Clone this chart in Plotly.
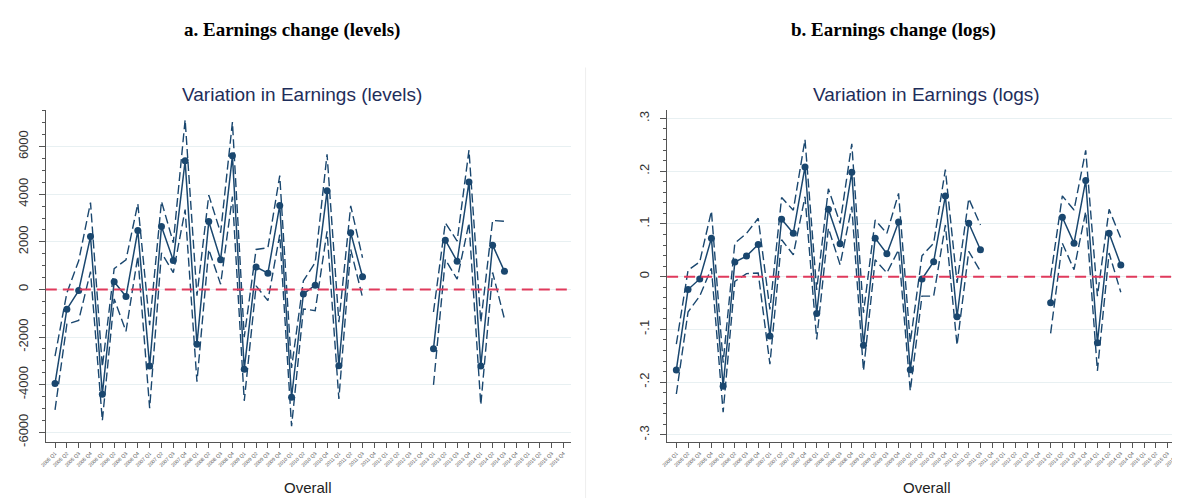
import plotly.graph_objects as go

quarters = [f"{y} Q{q}" for y in range(2005, 2016) for q in range(1, 5)]
N = None

# Panel a: levels
lev_est = [-3950, -830, -50, 2220, -4400, 320, -300, 2470, -3220, 2640, 1220, 5400,
           -2300, 2850, 1250, 5610, -3350, 940, 680, 3530, -4530, -190, 180, 4140,
           -3210, 2380, 530, N, N, N, N, N, -2490, 2070, 1180, 4510, -3220, 1860, 760,
           N, N, N, N, N]
lev_hi = [-2800, -150, 1200, 3650, -3250, 875, 1240, 3600, -1500, 3700, 1960, 7130,
          -260, 3960, 2380, 7030, -2000, 1680, 1750, 4780, -3300, 360, 1130, 5680,
          -1380, 3510, 1330, N, N, N, N, N, -950, 2800, 2030, 5850, -1380, 2900, 2860,
          N, N, N, N, N]
lev_lo = [-5060, -1460, -1300, 750, -5510, -400, -1760, 1400, -4990, 1540, 710, 3350,
          -3880, 1680, 220, 3900, -4680, 150, -470, 2300, -5750, -820, -890, 2440,
          -4600, 1680, -330, N, N, N, N, N, -4010, 1260, 430, 2790, -4850, 710, -1240,
          N, N, N, N, N]

# Panel b: logs
log_est = [-0.177, -0.0245, -0.0044, 0.073, -0.208, 0.0277, 0.039, 0.061, -0.1126, 0.1088,
           0.0824, 0.208, -0.0698, 0.1277, 0.0623, 0.198, -0.130, 0.073, 0.0434, 0.1038,
           -0.1767, -0.0044, 0.0283, 0.153, -0.0761, 0.1013, 0.0509, N, N, N, N, N,
           -0.0497, 0.1126, 0.0635, 0.1824, -0.1252, 0.0824, 0.022, N, N, N, N, N]
log_hi = [-0.128, 0.012, 0.028, 0.1245, -0.163, 0.0635, 0.082, 0.1107, -0.062, 0.150,
          0.126, 0.260, -0.025, 0.1667, 0.101, 0.252, -0.0686, 0.1075, 0.082, 0.158,
          -0.125, 0.0396, 0.0635, 0.203, -0.012, 0.148, 0.098, N, N, N, N, N,
          0.0, 0.153, 0.1264, 0.2396, -0.037, 0.1277, 0.073, N, N, N, N, N]
log_lo = [-0.2226, -0.067, -0.037, 0.016, -0.257, -0.009, 0.0057, 0.007, -0.166, 0.070,
          0.0415, 0.1516, -0.119, 0.092, 0.0226, 0.1327, -0.1786, 0.032, 0.007, 0.051,
          -0.2164, -0.037, -0.037, 0.098, -0.130, 0.048, 0.010, N, N, N, N, N,
          -0.1075, 0.0635, 0.0132, 0.1233, -0.1786, 0.0447, -0.0296, N, N, N, N, N]

W, H = 1180, 498
NAVY = "#1a476f"
RED = "#e03a5c"
GRID = "#e8f0f2"
AX = "#555555"

xs = list(range(len(quarters)))

fig = go.Figure()

def add_panel(xa, ya, est, hi, lo):
    for ser in (hi, lo):
        fig.add_trace(go.Scatter(x=xs, y=ser, mode="lines", xaxis=xa, yaxis=ya,
                                 line=dict(color=NAVY, width=1.4, dash="9px,4px"),
                                 connectgaps=False, showlegend=False, hoverinfo="skip"))
    fig.add_trace(go.Scatter(x=xs, y=est, mode="lines+markers", xaxis=xa, yaxis=ya,
                             line=dict(color=NAVY, width=1.5),
                             marker=dict(color=NAVY, size=7),
                             connectgaps=False, showlegend=False))

add_panel("x", "y", lev_est, lev_hi, lev_lo)
add_panel("x2", "y2", log_est, log_hi, log_lo)

def px_x(p):
    return p / W

def px_y(p):
    return 1 - p / H

ydom = [px_y(438), px_y(103)]

xcommon = dict(tickmode="array", tickvals=xs, ticktext=quarters, tickangle=-45,
               tickfont=dict(size=5, color="#555555", family="Arial"),
               ticks="outside", ticklen=5, tickcolor=AX, showline=True, linecolor=AX,
               linewidth=1, showgrid=False, zeroline=False)
ycommon = dict(tickangle=-90, tickfont=dict(size=13, color="#333333", family="Arial"),
               ticks="outside", ticklen=6, tickcolor=AX, showline=True, linecolor=AX,
               linewidth=1, showgrid=True, gridcolor=GRID, gridwidth=1.2, zeroline=False,
               ticklabelstandoff=6)

fig.update_layout(
    width=W, height=H, margin=dict(l=0, r=0, t=0, b=0),
    paper_bgcolor="white", plot_bgcolor="white",
    xaxis=dict(domain=[px_x(32), px_x(560)], range=[-0.78, 43.6], anchor="y", **xcommon),
    yaxis=dict(domain=ydom, range=[-6430, 7530], anchor="x",
               tickvals=[-6000, -4000, -2000, 0, 2000, 4000, 6000],
               ticktext=["-6000", "-4000", "-2000", "0", "2000", "4000", "6000"],
               minor=dict(dtick=500, ticklen=3, ticks="outside", tickcolor=AX, showgrid=False),
               **ycommon),
    xaxis2=dict(domain=[px_x(657), px_x(1174)], range=[-0.79, 43.15], anchor="y2", **xcommon),
    yaxis2=dict(domain=ydom, range=[-0.3145, 0.3157], anchor="x2",
                tickvals=[-0.3, -0.2, -0.1, 0, 0.1, 0.2, 0.3],
                ticktext=["-.3", "-.2", "-.1", "0", ".1", ".2", ".3"],
                minor=dict(dtick=0.02, ticklen=3, ticks="outside", tickcolor=AX, showgrid=False),
                **ycommon),
)

# zero reference lines
fig.add_shape(type="line", xref="x domain", yref="y", x0=0, x1=1, y0=0, y1=0,
              line=dict(color=RED, width=2, dash="11px,6px"))
fig.add_shape(type="line", xref="x2 domain", yref="y2", x0=0, x1=1, y0=0, y1=0,
              line=dict(color=RED, width=2, dash="11px,6px"))

# faint panel border
fig.add_shape(type="line", xref="paper", yref="paper", x0=px_x(575), x1=px_x(575),
              y0=px_y(60), y1=px_y(498), line=dict(color="#eeeeee", width=1))

def ann(text, x, y, size, color, family, bold=False):
    fig.add_annotation(text=f"<b>{text}</b>" if bold else text, xref="paper", yref="paper",
                       x=px_x(x), y=px_y(y), showarrow=False, xanchor="center", yanchor="middle",
                       font=dict(size=size, color=color, family=family))

ann("a. Earnings change (levels)", 280, 22, 19, "black", "Liberation Serif", bold=True)
ann("b. Earnings change (logs)", 885, 22, 19, "black", "Liberation Serif", bold=True)
ann("Variation in Earnings (levels)", 290, 87, 19, "#1e2d5a", "Liberation Sans")
ann("Variation in Earnings (logs)", 918, 87, 19, "#1e2d5a", "Liberation Sans")
ann("Overall", 296, 483, 15, "#222222", "Liberation Sans")
ann("Overall", 918, 483, 15, "#222222", "Liberation Sans")

fig.write_html("out.html")
